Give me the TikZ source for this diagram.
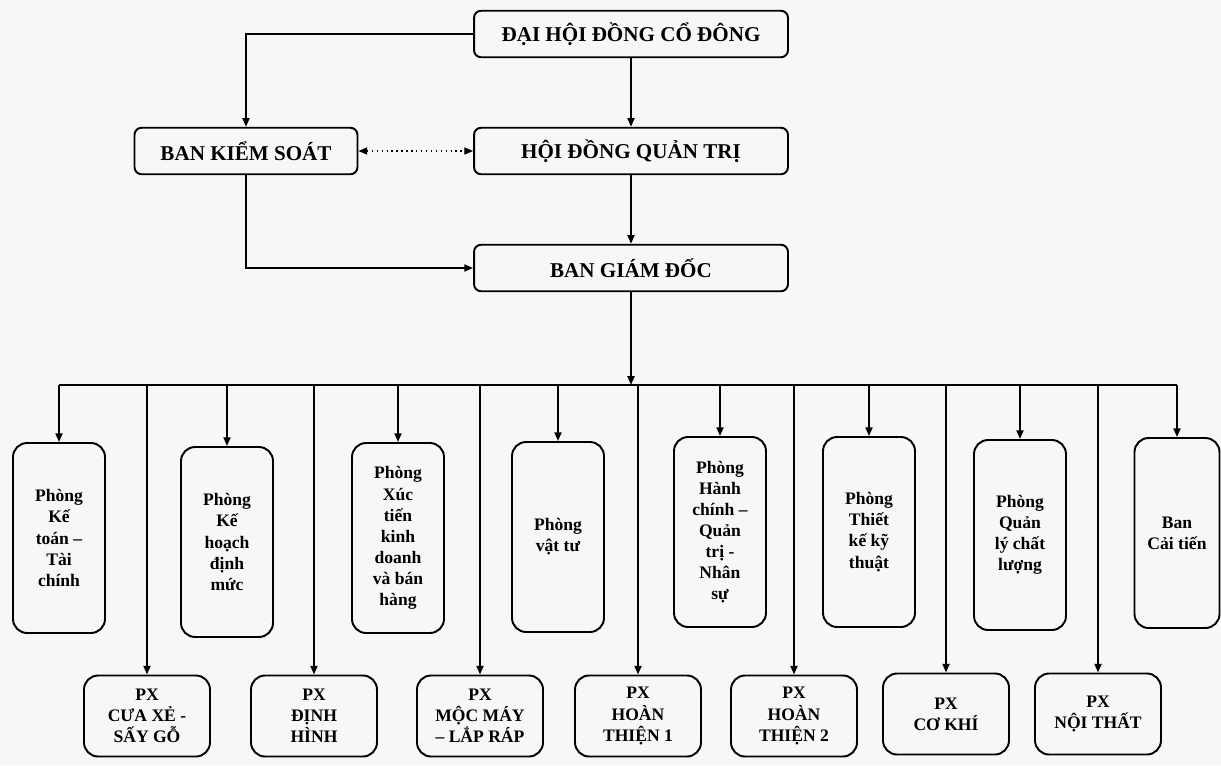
\documentclass[tikz,border=0pt]{standalone}
\usepackage{fontspec}
\setmainfont{Liberation Serif}
\usetikzlibrary{arrows.meta}

\begin{document}
\begin{tikzpicture}[x=0.02cm,y=-0.02cm,
        hop/.style={draw,line width=1.1pt,rounded corners=4pt,inner sep=0pt,minimum height=0.93cm,
            font=\bfseries\fontsize{12}{14}\selectfont},
        phong/.style={draw,line width=1.1pt,rounded corners=8pt,inner sep=0pt,align=center,
            minimum width=1.84cm,minimum height=3.8cm,font=\bfseries\fontsize{10}{12}\selectfont},
        px/.style={draw,line width=1.1pt,rounded corners=8pt,inner sep=0pt,align=center,
            minimum width=2.52cm,minimum height=1.62cm,font=\bfseries\fontsize{10}{12}\selectfont},
        mui/.style={line width=1.1pt,-{Triangle[length=5pt,width=4pt]}}]
        \fill[black!3] (0,0) rectangle (1221,765);
        \useasboundingbox (0,0) rectangle (1221,765);

        % Các cấp lãnh đạo
        \node[hop,minimum width=6.28cm] (dhcd) at (631,34) {ĐẠI HỘI ĐỒNG CỔ ĐÔNG};
        \node[hop,minimum width=4.46cm] (bks) at (246,151) {BAN KIỂM SOÁT};
        \node[hop,minimum width=6.28cm] (hdqt) at (631,151) {HỘI ĐỒNG QUẢN TRỊ};
        \node[hop,minimum width=6.28cm] (bgd) at (631,268) {BAN GIÁM ĐỐC};

        \coordinate (bus) at (631,385);

        % Các phòng ban
        \node[phong] (p1) at (59,538) {Phòng\\Kế\\toán –\\Tài\\chính};
        \node[phong] (p2) at (227,542) {Phòng\\Kế\\hoạch\\định\\mức};
        \node[phong] (p3) at (398,538) {Phòng\\Xúc\\tiến\\kinh\\doanh\\và bán\\hàng};
        \node[phong] (p4) at (558,537) {Phòng\\vật tư};
        \node[phong] (p5) at (720,532) {Phòng\\Hành\\chính –\\Quản\\trị -\\Nhân\\sự};
        \node[phong] (p6) at (869,532) {Phòng\\Thiết\\kế kỹ\\thuật};
        \node[phong] (p7) at (1020,535) {Phòng\\Quản\\lý chất\\lượng};
        \node[phong,minimum width=1.7cm] (p8) at (1177,533) {Ban\\Cải tiến};

        % Các phân xưởng
        \node[px] (x1) at (147,716) {PX\\CƯA XẺ -\\SẤY GỖ};
        \node[px] (x2) at (314,716) {PX\\ĐỊNH\\HÌNH};
        \node[px] (x3) at (480,716) {PX\\MỘC MÁY\\– LẮP RÁP};
        \node[px] (x4) at (638,716) {PX\\HOÀN\\THIỆN 1};
        \node[px] (x5) at (794,716) {PX\\HOÀN\\THIỆN 2};
        \node[px] (x6) at (946,714) {PX\\CƠ KHÍ};
        \node[px] (x7) at (1098,714) {PX\\NỘI THẤT};

        \draw[mui] (dhcd.west) -| (bks.north);
        \draw[mui] (dhcd.south) -- (hdqt.north);
        \draw[line width=0.8pt,dotted,{Triangle[length=5pt,width=4pt]}-{Triangle[length=5pt,width=4pt]}]
            (bks.east) -- (hdqt.west);
        \draw[mui] (bks.south) |- (bgd.west);
        \draw[mui] (hdqt.south) -- (bgd.north);
        \draw[mui] (bgd.south) -- (bus);

        \draw[line width=1.1pt] (p1.north |- bus) -- (p8.north |- bus);
        \foreach \i in {1,...,8}
            \draw[mui] (p\i.north |- bus) -- (p\i.north);
        \foreach \i in {1,...,7}
            \draw[mui] (x\i.north |- bus) -- (x\i.north);
    \end{tikzpicture}
\end{document}
